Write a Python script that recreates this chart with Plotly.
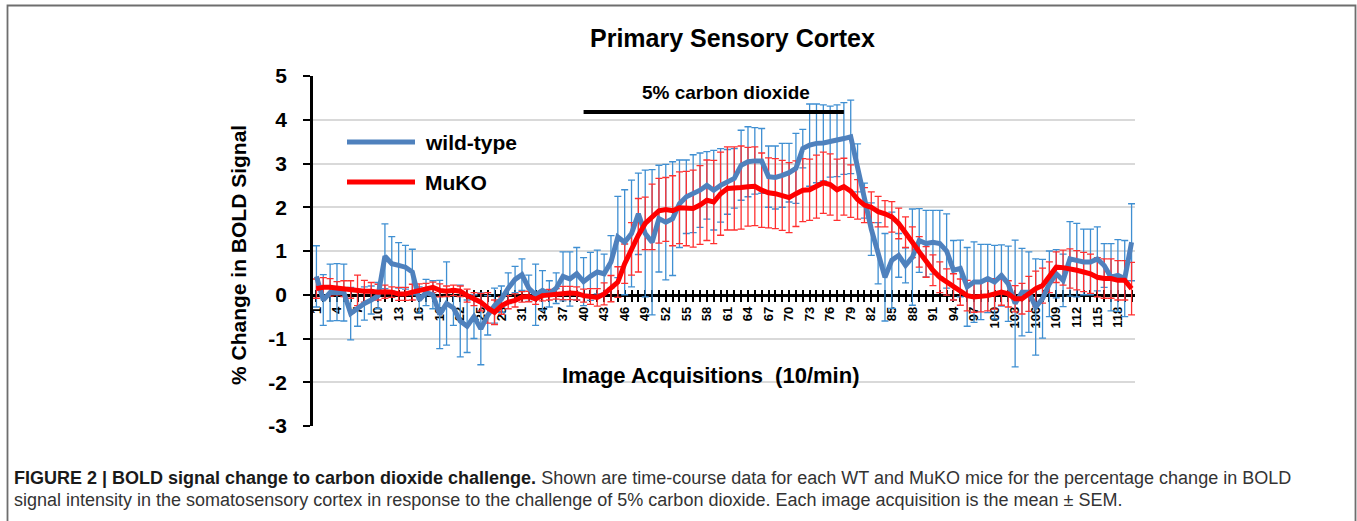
import plotly.graph_objects as go

# ---------------- data ----------------
acquisitions = list(range(1, 121))

wild_type = [0.42, -0.12, 0.05, 0.06, 0.05, -0.43, -0.3, -0.2, -0.12, -0.02,
             0.88, 0.71, 0.67, 0.63, 0.52, -0.12, 0.05, 0.0, -0.45, -0.2,
             -0.3, -0.6, -0.72, -0.5, -0.78, -0.47, -0.25, -0.1, 0.15, 0.35,
             0.46, 0.15, 0.0, 0.1, 0.02, 0.15, 0.42, 0.36, 0.48, 0.3,
             0.42, 0.52, 0.48, 0.75, 1.32, 1.2, 1.4, 1.85, 1.4, 1.2,
             1.74, 1.66, 1.74, 2.08, 2.24, 2.31, 2.39, 2.5, 2.39, 2.5,
             2.58, 2.66, 2.96, 3.04, 3.06, 3.06, 2.7, 2.68, 2.73, 2.79,
             2.89, 3.34, 3.42, 3.46, 3.47, 3.5, 3.52, 3.57, 3.61, 2.9,
             2.15, 1.5, 0.95, 0.4, 0.79, 0.9, 0.67, 0.86, 1.24, 1.17,
             1.2, 1.17, 1.0, 0.56, 0.6, 0.18, 0.29, 0.29, 0.37, 0.29,
             0.44, 0.25, -0.2, 0.06, 0.06, -0.28, -0.09, 0.25, 0.48, 0.33,
             0.82, 0.79, 0.75, 0.75, 0.82, 0.67, 0.4, 0.44, 0.37, 1.2]

wild_type_sem = [0.7, 0.58, 0.65, 0.65, 0.65, 0.6, 0.42, 0.38, 0.32, 0.3,
                 0.74, 0.62, 0.52, 0.5, 0.52, 0.3, 0.3, 0.32, 0.78, 0.95,
                 0.4, 0.82, 0.6, 0.5, 0.82, 0.45, 0.4, 0.3, 0.35, 0.3,
                 0.36, 0.3, 0.7, 0.45, 0.3, 0.35, 0.56, 0.62, 0.6, 0.55,
                 0.55, 0.5, 0.45, 0.6, 0.93, 1.2, 1.22, 0.93, 1.45, 1.66,
                 1.22, 1.32, 1.3, 1.0, 0.84, 0.89, 0.85, 0.77, 0.91, 0.84,
                 0.74, 0.68, 0.8, 0.8, 0.76, 0.74, 0.7, 0.72, 0.73, 0.67,
                 0.8, 0.44, 0.94, 0.9, 0.87, 0.81, 0.82, 0.82, 0.84, 0.55,
                 0.4, 0.6, 0.7, 1.0, 1.1, 0.5, 0.4, 1.1, 0.73, 0.76,
                 0.73, 0.76, 0.85, 0.68, 0.65, 0.9, 0.92, 0.86, 0.78, 0.84,
                 0.7, 0.86, 1.45, 1.0, 0.92, 1.1, 0.9, 0.75, 0.55, 0.6,
                 0.85, 0.84, 0.75, 0.75, 0.73, 0.5, 0.77, 0.82, 0.87, 0.88]

muko = [0.14, 0.17, 0.17, 0.15, 0.14, 0.12, 0.1, 0.08, 0.08, 0.06,
        0.07, 0.06, 0.02, 0.02, 0.06, 0.1, 0.14, 0.17, 0.1, 0.08,
        0.1, 0.08, -0.02, -0.1, -0.17, -0.3, -0.4, -0.25, -0.17, -0.13,
        -0.05, -0.04, -0.1, -0.02, 0.0, 0.02, 0.04, 0.04, 0.03, -0.02,
        -0.04, -0.06, 0.02, 0.14, 0.29, 0.71, 1.05, 1.36, 1.63, 1.78,
        1.92, 1.95, 1.92, 1.99, 1.97, 1.97, 2.05, 2.16, 2.12, 2.31,
        2.43, 2.43, 2.45, 2.47, 2.48, 2.39, 2.33, 2.31, 2.27, 2.22,
        2.31, 2.39, 2.4, 2.47, 2.56, 2.52, 2.4, 2.47, 2.37, 2.18,
        2.05, 2.0, 1.9, 1.85, 1.78, 1.63, 1.43, 1.2, 0.98, 0.75,
        0.56, 0.4, 0.29, 0.18, 0.06, -0.02, -0.05, -0.04, -0.02, 0.02,
        0.06, 0.02, -0.09, -0.09, 0.02, 0.14, 0.21, 0.4, 0.63, 0.62,
        0.6, 0.56, 0.52, 0.48, 0.4, 0.37, 0.37, 0.33, 0.33, 0.14]

muko_sem = [0.22, 0.22, 0.2, 0.15, 0.18, 0.2, 0.35, 0.25, 0.2, 0.18,
            0.15, 0.12, 0.15, 0.15, 0.18, 0.15, 0.12, 0.12, 0.15, 0.12,
            0.12, 0.12, 0.15, 0.15, 0.2, 0.35, 0.28, 0.2, 0.15, 0.15,
            0.12, 0.12, 0.12, 0.12, 0.12, 0.12, 0.15, 0.15, 0.15, 0.15,
            0.18, 0.2, 0.25, 0.3, 0.35, 0.45, 0.6, 0.84, 0.6, 0.75,
            0.74, 0.73, 0.8, 0.82, 0.85, 0.88, 0.9, 0.92, 0.95, 0.95,
            0.95, 0.95, 0.95, 0.9, 0.9, 0.85, 0.8, 0.8, 0.8, 0.8,
            0.75, 0.72, 0.7, 0.72, 0.7, 0.7, 0.7, 0.65, 0.6, 0.45,
            0.4, 0.35, 0.35, 0.3, 0.35, 0.35, 0.35, 0.35, 0.35, 0.35,
            0.35, 0.35, 0.3, 0.3, 0.3, 0.35, 0.35, 0.35, 0.35, 0.35,
            0.3, 0.3, 0.3, 0.35, 0.4, 0.4, 0.4, 0.35, 0.35, 0.4,
            0.45, 0.45, 0.45, 0.45, 0.45, 0.45, 0.45, 0.45, 0.45, 0.6]

x_tick_vals = list(range(1, 121, 3))
x_tick_text = [str(v) for v in x_tick_vals]
y_tick_vals = [-3, -2, -1, 0, 1, 2, 3, 4, 5]
y_tick_text = ["-3", "-2", "-1", "0", "1", "2", "3", "4", "5"]

co2_start, co2_end, co2_level = 40, 78, 4.18
co2_label = "5% carbon dioxide"

FONT = "Liberation Sans, Arial, sans-serif"
BLUE_LINE = "#4f81bd"
BLUE_ERR = "#3f8fd2"
RED_LINE = "#ff0000"
RED_ERR = "#ff3030"

fig = go.Figure()

# error bars (drawn first, beneath both lines)
fig.add_trace(go.Scatter(
    x=acquisitions, y=wild_type, mode="markers",
    marker=dict(size=1, color="rgba(0,0,0,0)"),
    error_y=dict(type="data", array=wild_type_sem, visible=True,
                 color=BLUE_ERR, thickness=1.3, width=3.5),
    showlegend=False, hoverinfo="skip"))
fig.add_trace(go.Scatter(
    x=acquisitions, y=muko, mode="markers",
    marker=dict(size=1, color="rgba(0,0,0,0)"),
    error_y=dict(type="data", array=muko_sem, visible=True,
                 color=RED_ERR, thickness=1.3, width=3.5),
    showlegend=False, hoverinfo="skip"))

# mean lines on the overlaying axis so they sit above all error bars
fig.add_trace(go.Scatter(
    x=acquisitions, y=wild_type, mode="lines", name="wild-type",
    line=dict(color=BLUE_LINE, width=5), xaxis="x2", showlegend=False))
fig.add_trace(go.Scatter(
    x=acquisitions, y=muko, mode="lines", name="MuKO",
    line=dict(color=RED_LINE, width=5), xaxis="x2", showlegend=False))

W, H = 1357, 521
ML, MR, MT, MB = 313, 222, 76, 95
PW, PH = W - ML - MR, H - MT - MB


def px(xp):
    return (xp - ML) / PW


def py(yp):
    return (H - MB - yp) / PH


zero_pos = 3 / 8

fig.update_layout(
    width=W, height=H,
    margin=dict(l=ML, r=MR, t=MT, b=MB, pad=0),
    paper_bgcolor="white", plot_bgcolor="white",
    font=dict(family=FONT, color="black"),
    xaxis=dict(
        range=[0.5, 120.5], anchor="free", position=zero_pos,
        showline=True, linecolor="black", linewidth=2.5,
        tickmode="array", tickvals=x_tick_vals, ticktext=x_tick_text,
        tickangle=-90, ticks="outside", ticklen=5, tickwidth=1.5,
        tickcolor="black",
        minor=dict(ticks="outside", tick0=1, dtick=1, ticklen=5,
                   tickwidth=1.5, tickcolor="black", showgrid=False),
        tickfont=dict(family=FONT, size=13, color="black", weight="bold"),
        showgrid=False, zeroline=False, layer="below traces",
    ),
    xaxis2=dict(
        range=[0.5, 120.5], overlaying="x", anchor="free", position=zero_pos,
        showline=False, tickmode="linear", tick0=1, dtick=1,
        ticks="inside", ticklen=5, tickwidth=1.5, tickcolor="black",
        showticklabels=False, showgrid=False, zeroline=False,
        layer="below traces",
    ),
    yaxis=dict(
        range=[-3, 5], tickmode="array", tickvals=y_tick_vals,
        ticktext=y_tick_text, showgrid=True, gridcolor="#d9d9d9",
        gridwidth=1.5, showline=True, linecolor="black", linewidth=2.5,
        ticks="outside", ticklen=7, tickwidth=2, tickcolor="black",
        tickfont=dict(family=FONT, size=21, color="black", weight="bold"),
        ticklabelstandoff=12, zeroline=False,
    ),
)

shapes = [
    # figure frame
    dict(type="rect", xref="paper", yref="paper",
         x0=px(7.5), x1=px(1355.5), y0=py(540), y1=py(5.5),
         line=dict(color="#6e6e6e", width=1.8), layer="below"),
    # CO2 exposure bar
    dict(type="line", xref="x", yref="y", x0=co2_start, x1=co2_end,
         y0=co2_level, y1=co2_level, line=dict(color="black", width=4)),
    # legend samples
    dict(type="line", xref="paper", yref="paper", x0=px(347), x1=px(415),
         y0=py(142), y1=py(142), line=dict(color=BLUE_LINE, width=5)),
    dict(type="line", xref="paper", yref="paper", x0=px(347), x1=px(415),
         y0=py(182), y1=py(182), line=dict(color=RED_LINE, width=5)),
]
fig.update_layout(shapes=shapes)

ann = [
    dict(text="<b>Primary Sensory Cortex</b>", x=px(732), y=py(38),
         font=dict(size=25, family=FONT, color="black")),
    dict(text="<b>% Change in BOLD Signal</b>", x=px(238), y=py(255),
         textangle=-90, font=dict(size=21, family=FONT, color="black")),
    dict(text="<b>Image Acquisitions  (10/min)</b>", x=px(710), y=py(375),
         font=dict(size=22, family=FONT, color="black")),
    dict(text="<b>wild-type</b>", x=px(423), y=py(142), xanchor="left",
         font=dict(size=21, family=FONT, color="black")),
    dict(text="<b>MuKO</b>", x=px(423), y=py(182), xanchor="left",
         font=dict(size=21, family=FONT, color="black")),
    dict(text="<span style='color:#1a1a1a'><b>FIGURE 2 | BOLD signal change to carbon dioxide challenge.</b></span>"
              " Shown are time-course data for each WT and MuKO mice for the percentage change in BOLD",
         x=px(12), y=py(478), xanchor="left", align="left",
         font=dict(size=18, family=FONT, color="#333333")),
    dict(text="signal intensity in the somatosensory cortex in response to the challenge of 5% carbon dioxide."
              " Each image acquisition is the mean \u00b1 SEM.",
         x=px(12), y=py(500), xanchor="left", align="left",
         font=dict(size=18, family=FONT, color="#333333")),
]
for a in ann:
    a.setdefault("xref", "paper")
    a.setdefault("yref", "paper")
    a.setdefault("xanchor", "center")
    a.setdefault("yanchor", "middle")
    a["showarrow"] = False
    fig.add_annotation(**a)

fig.add_annotation(text="<b>" + co2_label + "</b>", xref="x", yref="y",
                   x=60.8, y=4.62, showarrow=False,
                   font=dict(size=19, family=FONT, color="black"))

fig.write_html(
    "out.html",
    config={"displayModeBar": False},
    post_script="document.body.style.margin='0';document.body.style.overflow='hidden';",
)
